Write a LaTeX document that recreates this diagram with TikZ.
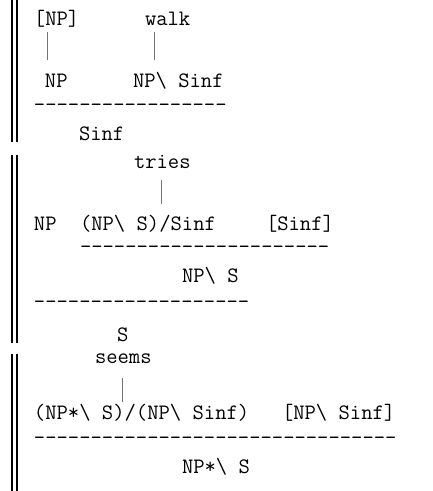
\documentclass[tikz,border=0pt]{standalone}
\newcommand\ttsp{\phantom{x}}
\newcommand\bsl{\textbackslash}
\newcount\dashcnt
\newcommand\dashrow[1]{\dashcnt=0 \loop\ifnum\dashcnt<#1 -\kern0pt\advance\dashcnt by 1 \repeat}
\begin{document}
\begin{tikzpicture}[x=1pt,y=-1pt,
  tok/.style={anchor=base west, inner sep=0pt, outer sep=0pt, font=\fontsize{22}{26}\selectfont\ttfamily},
  axiom/.style={draw=black!55, line width=1pt},
  margin/.style={draw=black, line width=1.8pt}]
\useasboundingbox (0,0) rectangle (432,491);
% ---------- block 1 ----------
\node[tok] (a1) at (34,25) {[NP]};
\node[tok] (a2) at (145,25) {walk};
\coordinate (b1t) at (47,32); \coordinate (b1b) at (47,60);
\coordinate (b2t) at (154,32); \coordinate (b2b) at (154,60);
\draw[axiom] (b1t) -- (b1b);
\draw[axiom] (b2t) -- (b2b);
\node[tok] (a3) at (45,87) {NP};
\node[tok] (a4) at (133,87) {NP\bsl\ttsp Sinf};
\node[tok] (l1) at (34,111) {\dashrow{17}};
\node[tok] (a5) at (79,140) {Sinf};
\coordinate (m1a) at (12,0); \coordinate (m1b) at (12,142);
\coordinate (m1c) at (17,0); \coordinate (m1d) at (17,142);
\draw[margin] (m1a) -- (m1b);
\draw[margin] (m1c) -- (m1d);
% ---------- block 2 ----------
\node[tok] (t1) at (134,168) {tries};
\coordinate (b3t) at (161,180); \coordinate (b3b) at (161,204);
\draw[axiom] (b3t) -- (b3b);
\node[tok] (t2) at (34,230) {NP};
\node[tok] (t3) at (80,230) {(NP\bsl\ttsp S)/Sinf};
\node[tok] (t4) at (266,230) {[Sinf]};
\node[tok] (l2) at (80,253) {\dashrow{22}};
\node[tok] (t5) at (182,282) {NP\bsl\ttsp S};
\node[tok] (l3) at (34,308) {\dashrow{19}};
\node[tok] (t6) at (117,341) {S};
\coordinate (m2a) at (12,155); \coordinate (m2b) at (12,343);
\coordinate (m2c) at (17,155); \coordinate (m2d) at (17,343);
\draw[margin] (m2a) -- (m2b);
\draw[margin] (m2c) -- (m2d);
% ---------- block 3 ----------
\node[tok] (s1) at (95,363) {seems};
\coordinate (b4t) at (122,378); \coordinate (b4b) at (122,402);
\draw[axiom] (b4t) -- (b4b);
\node[tok] (s2) at (34,419) {(NP*\bsl\ttsp S)/(NP\bsl\ttsp Sinf)};
\node[tok] (s3) at (282,419) {[NP\bsl\ttsp Sinf]};
\node[tok] (l4) at (34,444) {\dashrow{32}};
\node[tok] (s4) at (182,473) {NP*\bsl\ttsp S};
\coordinate (m3a) at (12,354); \coordinate (m3b) at (12,491);
\coordinate (m3c) at (17,354); \coordinate (m3d) at (17,491);
\draw[margin] (m3a) -- (m3b);
\draw[margin] (m3c) -- (m3d);
\end{tikzpicture}
\end{document}
